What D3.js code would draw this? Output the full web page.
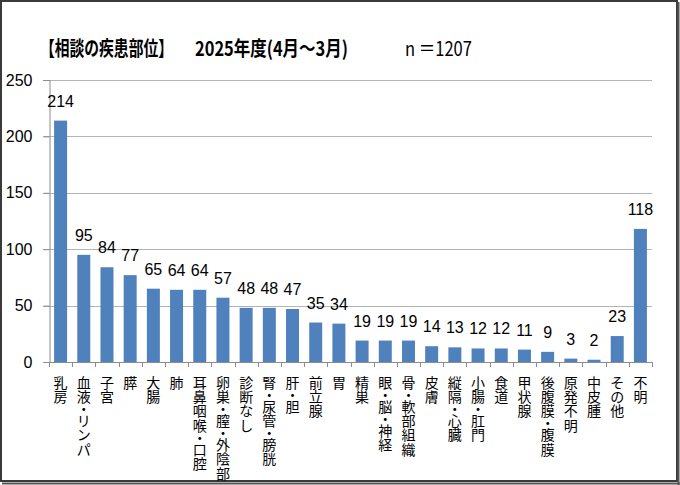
<!DOCTYPE html>
<html>
<head>
<meta charset="utf-8">
<script src="https://cdn.jsdelivr.net/npm/d3@7"></script>
<style>
  body { margin: 0; background: #fff; }
  svg { display: block; }
  .num { font-family: "Liberation Sans", Arial, sans-serif; font-size: 16px; fill: #000; }
  .cat { font-family: "Noto Sans CJK JP", sans-serif; font-size: 14px; fill: #000; }
</style>
</head>
<body>
<svg id="chart" width="680" height="485"></svg>
<script>
// 疾患部位ごとの相談件数
var categories = ["乳房", "血液・リンパ", "子宮", "膵", "大腸", "肺", "耳鼻咽喉・口腔",
  "卵巣・膣・外陰部", "診断なし", "腎・尿管・膀胱", "肝・胆", "前立腺", "胃", "精巣",
  "眼・脳・神経", "骨・軟部組織", "皮膚", "縦隔・心臓", "小腸・肛門", "食道", "甲状腺",
  "後腹膜・腹膜", "原発不明", "中皮腫", "その他", "不明"];
var counts = [214, 95, 84, 77, 65, 64, 64, 57, 48, 48, 47, 35, 34, 19, 19, 19, 14, 13,
  12, 12, 11, 9, 3, 2, 23, 118];
var yTicks = [0, 50, 100, 150, 200, 250];

var svg = d3.select("#chart");
var margin = {left: 49, right: 652, top: 80, bottom: 362};

var x = d3.scaleBand().domain(categories).range([margin.left, margin.right]).paddingInner(0.44).paddingOuter(0.22);
var y = d3.scaleLinear().domain([0, 250]).range([margin.bottom, margin.top]);

// frame
svg.append("rect").attr("x", 1).attr("y", 1).attr("width", 676).attr("height", 480)
  .attr("fill", "#fff").attr("stroke", "#3a3a3a").attr("stroke-width", 2);
svg.append("line").attr("x1", 678.5).attr("x2", 678.5).attr("y1", 2).attr("y2", 485)
  .attr("stroke", "#555").attr("stroke-width", 2);
svg.append("line").attr("x1", 2).attr("x2", 680).attr("y1", 483.5).attr("y2", 483.5)
  .attr("stroke", "#555").attr("stroke-width", 2);

// title: three pieces, each squeezed horizontally to the width seen in the picture
var titleParts = [
  {text: "【相談の疾患部位】", x: 40, w: 133, bold: true},
  {text: "2025年度(4月～3月)", x: 195, w: 153, bold: true},
  {text: "n ＝1207", x: 405, w: 67, bold: false}
];
titleParts.forEach(function(p) {
  var t = svg.append("text")
    .attr("font-family", "'Noto Sans CJK JP', sans-serif")
    .attr("font-size", 20)
    .attr("font-weight", p.bold ? "bold" : "normal")
    .attr("fill", "#000")
    .text(p.text);
  var w = t.node().getComputedTextLength();
  t.attr("transform", "translate(" + p.x + ",56) scale(" + (p.w / w) + ",1)");
});

// gridlines
svg.append("g").selectAll("line").data(yTicks.filter(d => d > 0)).enter().append("line")
  .attr("x1", margin.left - 6).attr("x2", margin.right)
  .attr("y1", d => Math.round(y(d)) + 0.5).attr("y2", d => Math.round(y(d)) + 0.5)
  .attr("stroke", "#b3b3b3").attr("stroke-width", 1);

// y axis
var yAxis = svg.append("g").attr("transform", "translate(" + (margin.left + 0.5) + ",0)")
  .call(d3.axisLeft(y).tickValues(yTicks).tickSize(6).tickPadding(11));
yAxis.select(".domain").attr("stroke", "#8c8c8c");
yAxis.selectAll(".tick line").attr("stroke", "#8c8c8c");
yAxis.selectAll(".tick text").attr("class", "num").attr("font-family", null).attr("font-size", null);

// bars
svg.append("g").selectAll("rect").data(counts).enter().append("rect")
  .attr("x", (d, i) => x(categories[i]))
  .attr("width", x.bandwidth())
  .attr("y", d => y(d))
  .attr("height", d => y(0) - y(d))
  .attr("fill", "#4f81bd");

// x axis with ticks between categories
var xg = svg.append("g");
xg.append("line").attr("x1", margin.left).attr("x2", margin.right)
  .attr("y1", margin.bottom + 0.5).attr("y2", margin.bottom + 0.5).attr("stroke", "#8c8c8c");
var step = x.step();
xg.selectAll("line.t").data(d3.range(categories.length + 1)).enter().append("line")
  .attr("class", "t")
  .attr("x1", i => Math.round(margin.left + i * step) + 0.5)
  .attr("x2", i => Math.round(margin.left + i * step) + 0.5)
  .attr("y1", margin.bottom).attr("y2", margin.bottom + 5)
  .attr("stroke", "#8c8c8c");

// value labels
svg.append("g").selectAll("text").data(counts).enter().append("text")
  .attr("class", "num")
  .attr("x", (d, i) => x(categories[i]) + x.bandwidth() / 2)
  .attr("y", d => y(d) - 14)
  .attr("text-anchor", "middle")
  .text(d => d);

// vertical category labels, one character per line; the middle dot takes less room
var cats = svg.append("g").selectAll("text").data(categories).enter().append("text")
  .attr("class", "cat")
  .attr("text-anchor", "middle");
cats.each(function(name) {
  var t = d3.select(this);
  var cx = x(name) + x.bandwidth() / 2;
  var yy = 388;
  Array.from(name).forEach(function(ch, j) {
    if (j > 0) yy += (ch === "・" || name[j - 1] === "・") ? 12 : 14.2;
    t.append("tspan").attr("x", cx).attr("y", yy).text(ch);
  });
});
</script>
</body>
</html>
